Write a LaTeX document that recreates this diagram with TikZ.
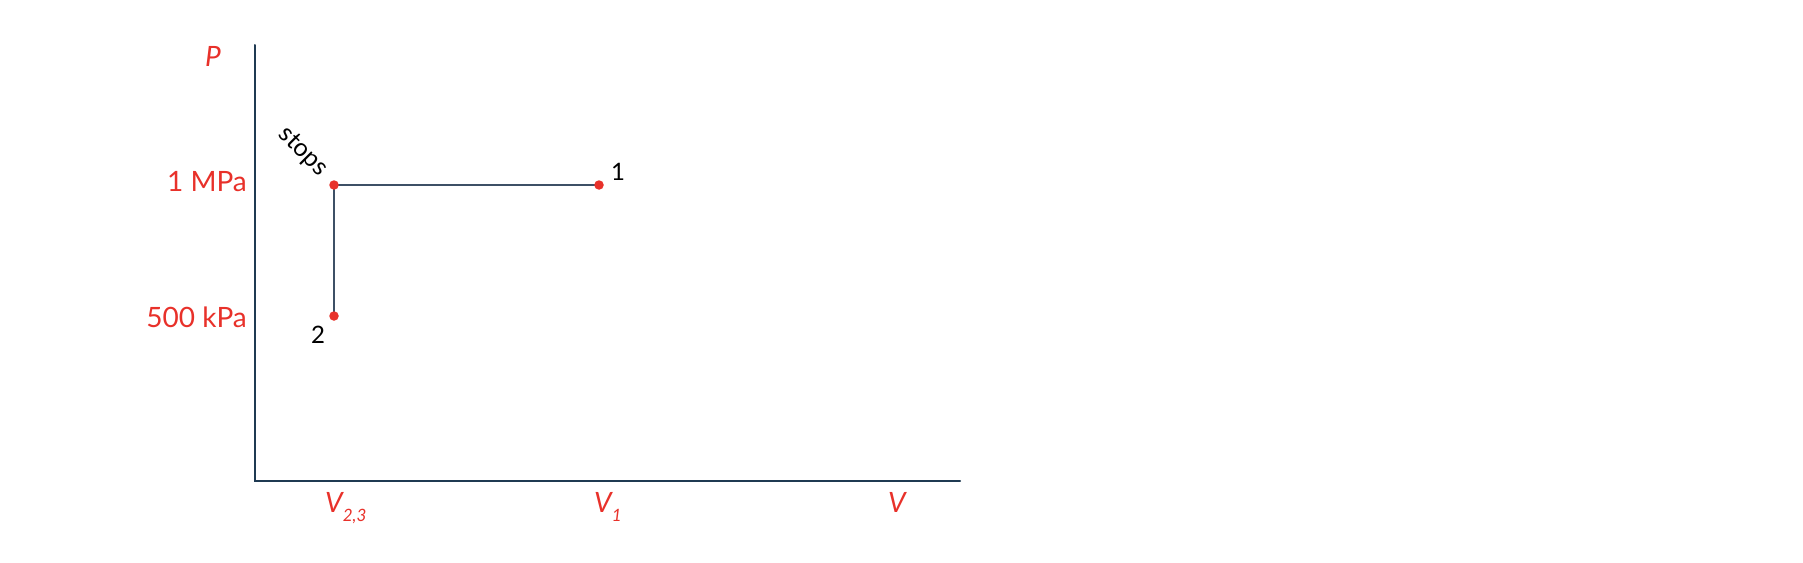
\documentclass[tikz,border=0pt]{standalone}
\usepackage{fontspec}
\setmainfont{Lato}
\usetikzlibrary{backgrounds}
\definecolor{axcol}{HTML}{1F3A52}
\definecolor{lncol}{HTML}{3D5066}
\definecolor{redc}{HTML}{E8312A}
\tikzset{
  axis/.style={draw=axcol, line width=2pt, line cap=round},
  path/.style={draw=lncol, line width=1.3pt},
  pt/.style={circle, fill=redc, inner sep=0pt, minimum size=9.5pt},
  redlab/.style={text=redc, font=\fontsize{28}{30}\selectfont, inner sep=0pt},
  blklab/.style={text=black, font=\fontsize{24}{26}\selectfont, inner sep=0pt}
}
\begin{document}
\begin{tikzpicture}[x=1pt, y=-1pt]
\useasboundingbox (0,0) rectangle (1803,562);
\coordinate (top) at (255,45);
\coordinate (orig) at (255,481);
\coordinate (xend) at (960,481);
\node[pt] (s) at (334,185) {};
\node[pt] (p1) at (599,185) {};
\node[pt] (p2) at (334,316) {};
\begin{scope}[on background layer]
\draw[path] (s.center) -- (p1.center);
\draw[path] (s.center) -- (p2.center);
\end{scope}
\draw[axis] (top) -- (orig) -- (xend);
\node[redlab, anchor=base] (P) at (213,66) {\itshape P};
\node[redlab, anchor=base east] (mpa) at (247,191) {1 MPa};
\node[redlab, anchor=base east] (kpa) at (247,327) {500 kPa};
\node[redlab, anchor=base west] (v23) at (325,512) {\itshape V\raisebox{-9pt}{\fontsize{17}{18}\selectfont 2,3}};
\node[redlab, anchor=base west] (v1) at (594,512) {\itshape V\raisebox{-9pt}{\fontsize{17}{18}\selectfont 1}};
\node[redlab, anchor=base] (v) at (897,512) {\itshape V};
\node[blklab, anchor=base] (l1) at (618,180) {1};
\node[blklab, anchor=base] (l2) at (318,343) {2};
\node[blklab, rotate=-45, font=\fontsize{25}{27}\selectfont] (stops) at (303,152) {stops};
\end{tikzpicture}
\end{document}
